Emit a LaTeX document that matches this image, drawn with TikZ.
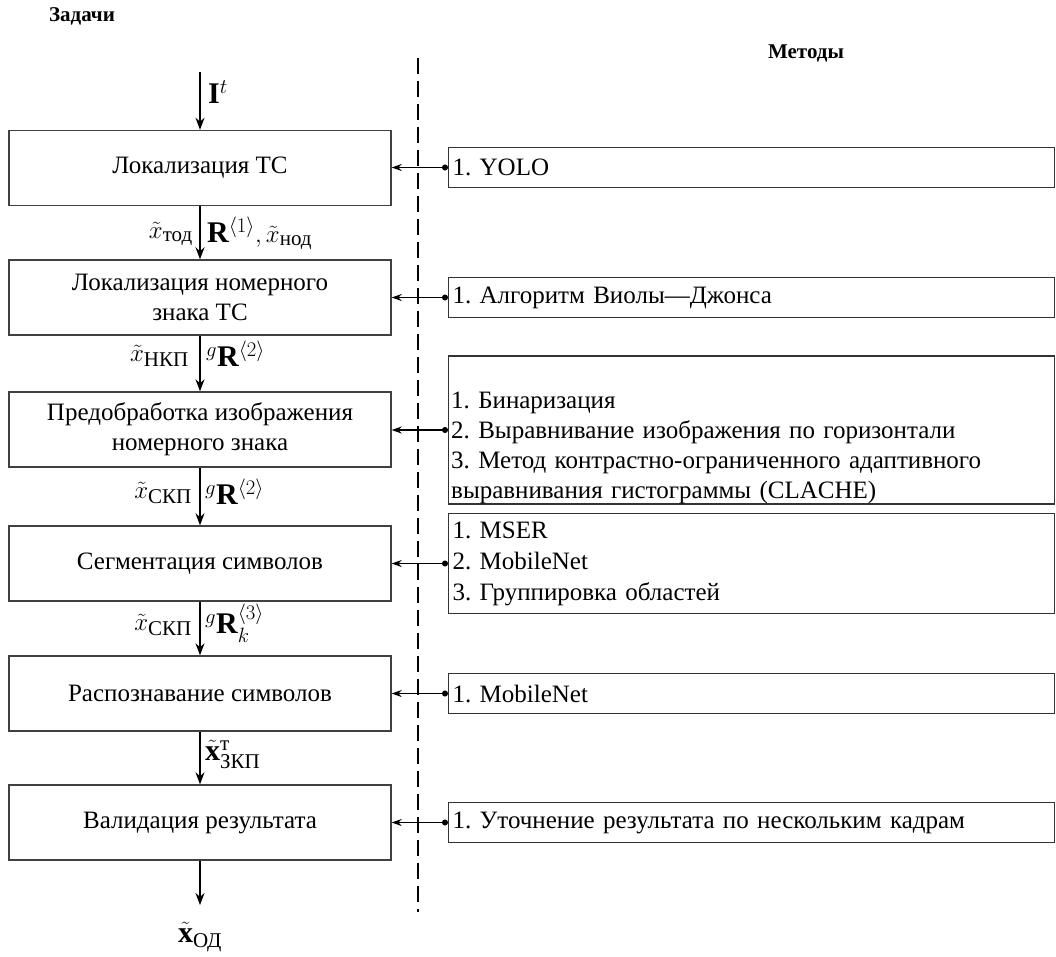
\documentclass[tikz,border=0pt]{standalone}
\usepackage{fontspec}
\setmainfont{Liberation Serif}
\usepackage{amsmath}
\usetikzlibrary{arrows.meta}
\frenchspacing
\tikzset{
  task/.style={draw=black!75, line width=1.4pt, minimum width=382pt, minimum height=75pt,
    inner sep=2pt, align=center, font=\fontsize{25}{30}\selectfont},
  methbox/.style={draw=black!80, line width=1.2pt, minimum width=606pt, minimum height=40pt,
    anchor=west, text width=598pt, align=left, inner xsep=3pt, font=\fontsize{25}{31}\selectfont},
  flow/.style={-{Stealth[length=12pt,width=9pt]}, line width=1.6pt},
  feed/.style={{Circle[length=6pt]}-{Stealth[length=10pt,width=7pt]}, line width=1.1pt},
  lbl/.style={font=\fontsize{30}{34}\selectfont, inner sep=0pt},
  head/.style={font=\fontsize{21}{24}\selectfont\bfseries, inner sep=0pt},
  divider/.style={line width=1.1pt, dash pattern=on 16pt off 7pt}
}
\begin{document}
\begin{tikzpicture}[x=1pt,y=-1pt]
\useasboundingbox (0,0) rectangle (1056,956);
\node[head] (h1) at (82,16) {Задачи};
\node[head] (h2) at (806,53) {Методы};
% tasks
\node[task] (a1) at (200,168) {Локализация ТС};
\node[task] (a2) at (200,297.5) {Локализация номерного\\знака ТС};
\node[task] (a3) at (200,429.5) {Предобработка изображения\\номерного знака};
\node[task] (a4) at (200,563.5) {Сегментация символов};
\node[task] (a5) at (200,693.5) {Распознавание символов};
\node[task] (a6) at (200,822.5) {Валидация результата};
% methods
\node[methbox] (m1) at (448,167.5) {1. YOLO};
\node[methbox] (m2) at (448,297.5) {1. Алгоритм Виолы—Джонса};
\node[methbox, minimum height=148pt] (m3) at (448,430) {};
\node[anchor=base west, text width=598pt, align=left, inner sep=0pt, font=\fontsize{25}{30}\selectfont] (t3) at (451,408)
  {1. Бинаризация\\2. Выравнивание изображения по горизонтали\\3. Метод контрастно-ограниченного адаптивного\\выравнивания гистограммы (CLACHE)};
\node[methbox, minimum height=100pt] (m4) at (448,563.5) {1. MSER\\2. MobileNet\\3. Группировка областей};
\node[methbox] (m5) at (448,693.5) {1. MobileNet};
\node[methbox] (m6) at (448,822.5) {1. Уточнение результата по нескольким кадрам};
% divider
\coordinate (d1) at (418,58);
\coordinate (d2) at (418,912);
\draw[divider] (d1) -- (d2);
% feedback arrows
\foreach \i in {1,...,6} {
  \draw[feed] (m\i.west) -- (a\i.east |- m\i.west);
}
% main flow
\coordinate (in) at (200,72);
\coordinate (out) at (200,905);
\draw[flow] (in) -- (a1.north);
\draw[flow] (a1.south) -- (a2.north);
\draw[flow] (a2.south) -- (a3.north);
\draw[flow] (a3.south) -- (a4.north);
\draw[flow] (a4.south) -- (a5.north);
\draw[flow] (a5.south) -- (a6.north);
\draw[flow] (a6.south) -- (out);
% labels
\node[lbl, anchor=base west] (l0) at (208,103) {$\mathbf{I}^{t}$};
\node[lbl, anchor=base east] (l1a) at (193,238) {$\tilde{x}_{\text{тод}}$};
\node[lbl, anchor=base west] (l1b) at (207,242) {$\mathbf{R}^{\langle 1\rangle},\tilde{x}_{\text{нод}}$};
\node[lbl, anchor=base east] (l2a) at (189,361) {$\tilde{x}_{\text{НКП}}$};
\node[lbl, anchor=base west] (l2b) at (206,366) {${}^{g}\mathbf{R}^{\langle 2\rangle}$};
\node[lbl, anchor=base east] (l3a) at (192,498) {$\tilde{x}_{\text{СКП}}$};
\node[lbl, anchor=base west] (l3b) at (205,504) {${}^{g}\mathbf{R}^{\langle 2\rangle}$};
\node[lbl, anchor=base east] (l4a) at (192,630) {$\tilde{x}_{\text{СКП}}$};
\node[lbl, anchor=base west] (l4b) at (205,633) {${}^{g}\mathbf{R}_{k}^{\langle 3\rangle}$};
\node[lbl, anchor=base west] (l5) at (205,760) {$\tilde{\mathbf{x}}_{\text{ЗКП}}^{\text{т}}$};
\node[lbl, anchor=base] (l6) at (200,942) {$\tilde{\mathbf{x}}_{\text{ОД}}$};
\end{tikzpicture}
\end{document}
